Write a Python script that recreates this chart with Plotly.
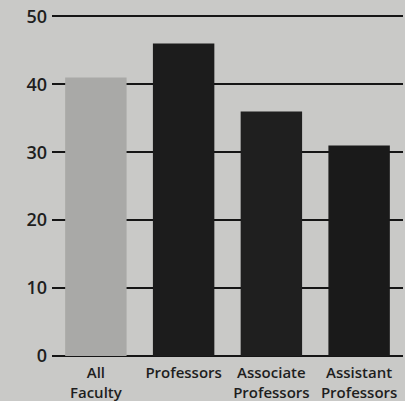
import plotly.graph_objects as go

categories = ["All<br>Faculty", "Professors", "Associate<br>Professors", "Assistant<br>Professors"]
values = [41, 46, 36, 31]
bar_colors = ["#a9a9a7", "#1c1c1c", "#1f1f1f", "#1a1a1a"]
y_ticks = [0, 10, 20, 30, 40, 50]

fig = go.Figure(go.Bar(
    x=categories, y=values, marker=dict(color=bar_colors, line=dict(width=0)),
    width=0.7,
))

fig.update_layout(
    width=405, height=401,
    margin=dict(l=52, r=2, t=13, b=45),
    paper_bgcolor="#c9c9c7", plot_bgcolor="#c9c9c7",
    showlegend=False,
    font=dict(family="Open Sans", color="#1e1e1e"),
    bargap=0.3,
)
fig.update_yaxes(
    range=[0, 50.5], tickvals=y_ticks, showgrid=True, gridcolor="#151515", gridwidth=2,
    zeroline=True, zerolinecolor="#151515", zerolinewidth=2,
    tickfont=dict(size=18, family="Open Sans", color="#1e1e1e", weight=600),
    ticks="", showline=False, layer="below traces", ticklabelstandoff=4,
    automargin=False,
)
fig.update_xaxes(
    tickfont=dict(size=15, family="Open Sans", color="#1e1e1e", weight=600),
    showline=False, ticks="", showgrid=False, ticklabelstandoff=6,
    automargin=False,
)

fig.write_html(
    "out.html",
    config={"displayModeBar": False},
    post_script="document.body.style.margin='0';document.body.style.overflow='hidden';",
)
